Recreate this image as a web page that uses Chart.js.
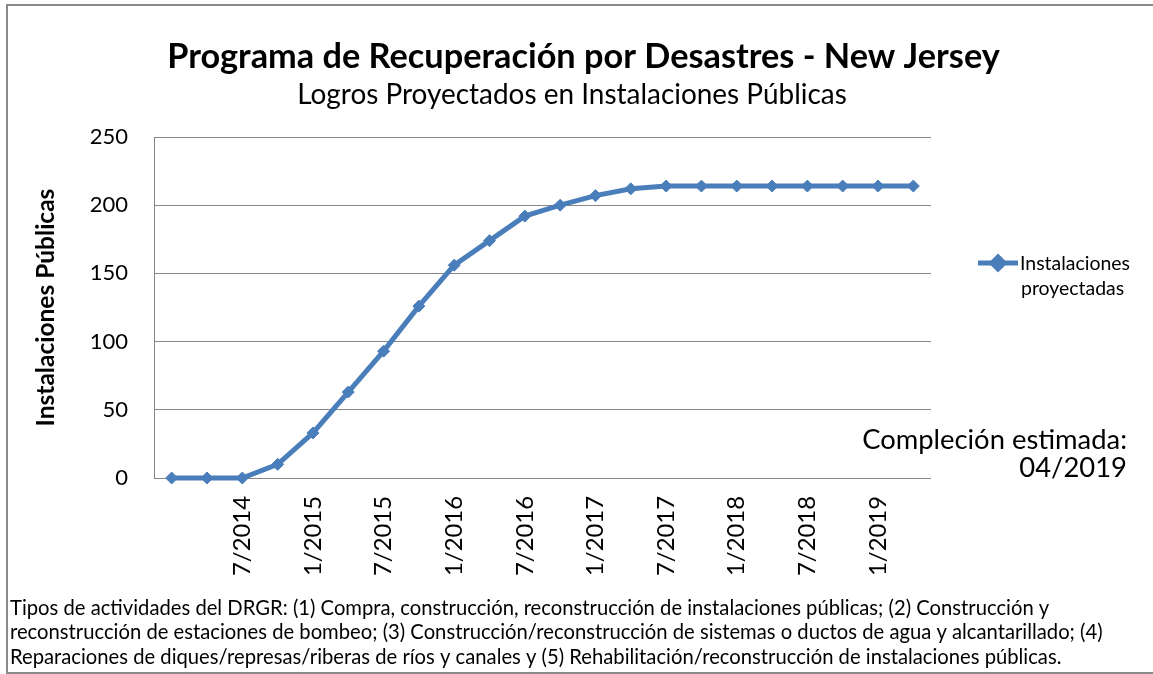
<!DOCTYPE html>
<html><head><meta charset="utf-8">
<script src="https://cdn.jsdelivr.net/npm/chart.js@4.4.1/dist/chart.umd.min.js"></script>
<style>
html,body{margin:0;padding:0;background:#fff;overflow:hidden;}
#wrap{position:relative;width:1153px;height:674px;}
#frame{position:absolute;left:6px;top:4px;width:1160px;height:666px;border-left:2px solid #8a8a8a;border-top:2px solid #8a8a8a;border-bottom:2px solid #8a8a8a;pointer-events:none;}
canvas{position:absolute;left:0;top:0;}
</style></head><body>
<div id="wrap"><canvas id="c" width="1153" height="674"></canvas><div id="frame"></div></div>
<script>
// ---- data ----
const categories = ['1/2014','4/2014','7/2014','10/2014','1/2015','4/2015','7/2015','10/2015','1/2016','4/2016','7/2016','10/2016','1/2017','4/2017','7/2017','10/2017','1/2018','4/2018','7/2018','10/2018','1/2019','4/2019'];
const tickLabels = ['7/2014','1/2015','7/2015','1/2016','7/2016','1/2017','7/2017','1/2018','7/2018','1/2019'];
const seriesName = 'Instalaciones proyectadas';
const seriesValues = [0,0,0,10,33,63,93,126,156,174,192,200,207,212,214,214,214,214,214,214,214,214];
const yMin = 0, yMax = 250, yStep = 50;
const titleText = 'Programa de Recuperación por Desastres - New Jersey';
const subtitleText = 'Logros Proyectados en Instalaciones Públicas';
const yAxisTitle = 'Instalaciones Públicas';
const noteLines = ['Compleción estimada:', '04/2019'];
const footerLines = [
 'Tipos de actividades del DRGR: (1) Compra, construcción, reconstrucción de instalaciones públicas; (2) Construcción y',
 'reconstrucción de estaciones de bombeo; (3) Construcción/reconstrucción de sistemas o ductos de agua y alcantarillado; (4)',
 'Reparaciones de diques/represas/riberas de ríos y canales y (5) Rehabilitación/reconstrucción de instalaciones públicas.'
];

// ---- style helpers ----
const FAMILY = 'Lato, "Open Sans", sans-serif';
const BLUE = '#4a7ebb';
const GRID = '#878787';
const mctx = document.createElement('canvas').getContext('2d');
function fit(text, weight, target){
  mctx.font = weight + ' 100px ' + FAMILY;
  return 100 * target / mctx.measureText(text).width;
}
const yTitleSize = fit(yAxisTitle, 'bold', 238);
const xTickSize = fit(tickLabels[0], 'normal', 80);

const textPlugin = {
  id: 'texts',
  afterDraw(chart){
    const ctx = chart.ctx;
    ctx.save();
    ctx.fillStyle = '#000';
    // title + subtitle
    ctx.textAlign = 'center';
    ctx.textBaseline = 'alphabetic';
    ctx.font = 'bold ' + fit(titleText,'bold',833) + 'px ' + FAMILY;
    ctx.fillText(titleText, 583.5, 68);
    ctx.font = 'normal ' + fit(subtitleText,'normal',550) + 'px ' + FAMILY;
    ctx.fillText(subtitleText, 572, 104);
    // legend
    const ds = chart.data.datasets[0];
    ctx.strokeStyle = ds.borderColor;
    ctx.lineWidth = ds.borderWidth;
    ctx.beginPath(); ctx.moveTo(978, 263); ctx.lineTo(1018, 263); ctx.stroke();
    ctx.fillStyle = ds.pointBackgroundColor;
    ctx.strokeStyle = ds.pointBorderColor;
    Chart.helpers.drawPoint(ctx, {pointStyle: 'rectRot', radius: ds.pointRadius, borderWidth: 1, rotation: 0}, 998, 263);
    ctx.fillStyle = '#000';
    ctx.textAlign = 'left';
    ctx.textBaseline = 'middle';
    const legendWords = ds.label.split(' ');
    ctx.font = 'normal ' + fit(legendWords[0],'normal',110) + 'px ' + FAMILY;
    ctx.fillText(legendWords[0], 1020, 264);
    ctx.fillText(legendWords[1], 1021, 289);
    // completion note
    ctx.textAlign = 'right';
    ctx.font = 'normal ' + fit(noteLines[0],'normal',265) + 'px ' + FAMILY;
    ctx.fillText(noteLines[0], 1127, 440);
    ctx.fillText(noteLines[1], 1127, 468);
    // footer
    ctx.textAlign = 'left';
    ctx.font = 'normal ' + fit(footerLines[0],'normal',1040) + 'px ' + FAMILY;
    footerLines.forEach((l, i) => ctx.fillText(l, 10, 608 + i * 24.5));
    ctx.restore();
  }
};

new Chart(document.getElementById('c'), {
  type: 'line',
  data: {
    labels: categories,
    datasets: [{
      label: seriesName,
      data: seriesValues,
      borderColor: BLUE,
      backgroundColor: BLUE,
      borderWidth: 5,
      pointStyle: 'rectRot',
      pointRadius: 6,
      pointBackgroundColor: BLUE,
      pointBorderColor: BLUE,
      pointBorderWidth: 1,
      tension: 0,
      clip: false
    }]
  },
  options: {
    responsive: false,
    devicePixelRatio: 1,
    animation: false,
    layout: { padding: { left: 0, top: 137, right: 222, bottom: 0 } },
    plugins: { legend: { display: false }, tooltip: { enabled: false }, title: { display: false } },
    scales: {
      x: {
        offset: true,
        grid: { display: false, drawTicks: false },
        border: { display: false },
        afterFit(s){ s.height = 196; },
        ticks: {
          autoSkip: false, maxRotation: 90, minRotation: 90, padding: 18,
          color: '#000', font: { family: FAMILY, size: xTickSize },
          callback(v){ const c = this.getLabelForValue(v); return tickLabels.includes(c) ? c : ''; }
        }
      },
      y: {
        min: yMin, max: yMax,
        afterFit(s){ s.width = 154; },
        grid: { color: GRID, lineWidth: 1, drawTicks: false },
        border: { display: true, color: GRID, width: 1 },
        ticks: { stepSize: yStep, padding: 26, color: '#000', font: { family: FAMILY, size: 22 } },
        title: { display: true, text: yAxisTitle, color: '#000', font: { family: FAMILY, size: yTitleSize, weight: 'bold' }, padding: { top: 31, bottom: 0 } }
      }
    }
  },
  plugins: [textPlugin]
});
</script>
</body></html>
